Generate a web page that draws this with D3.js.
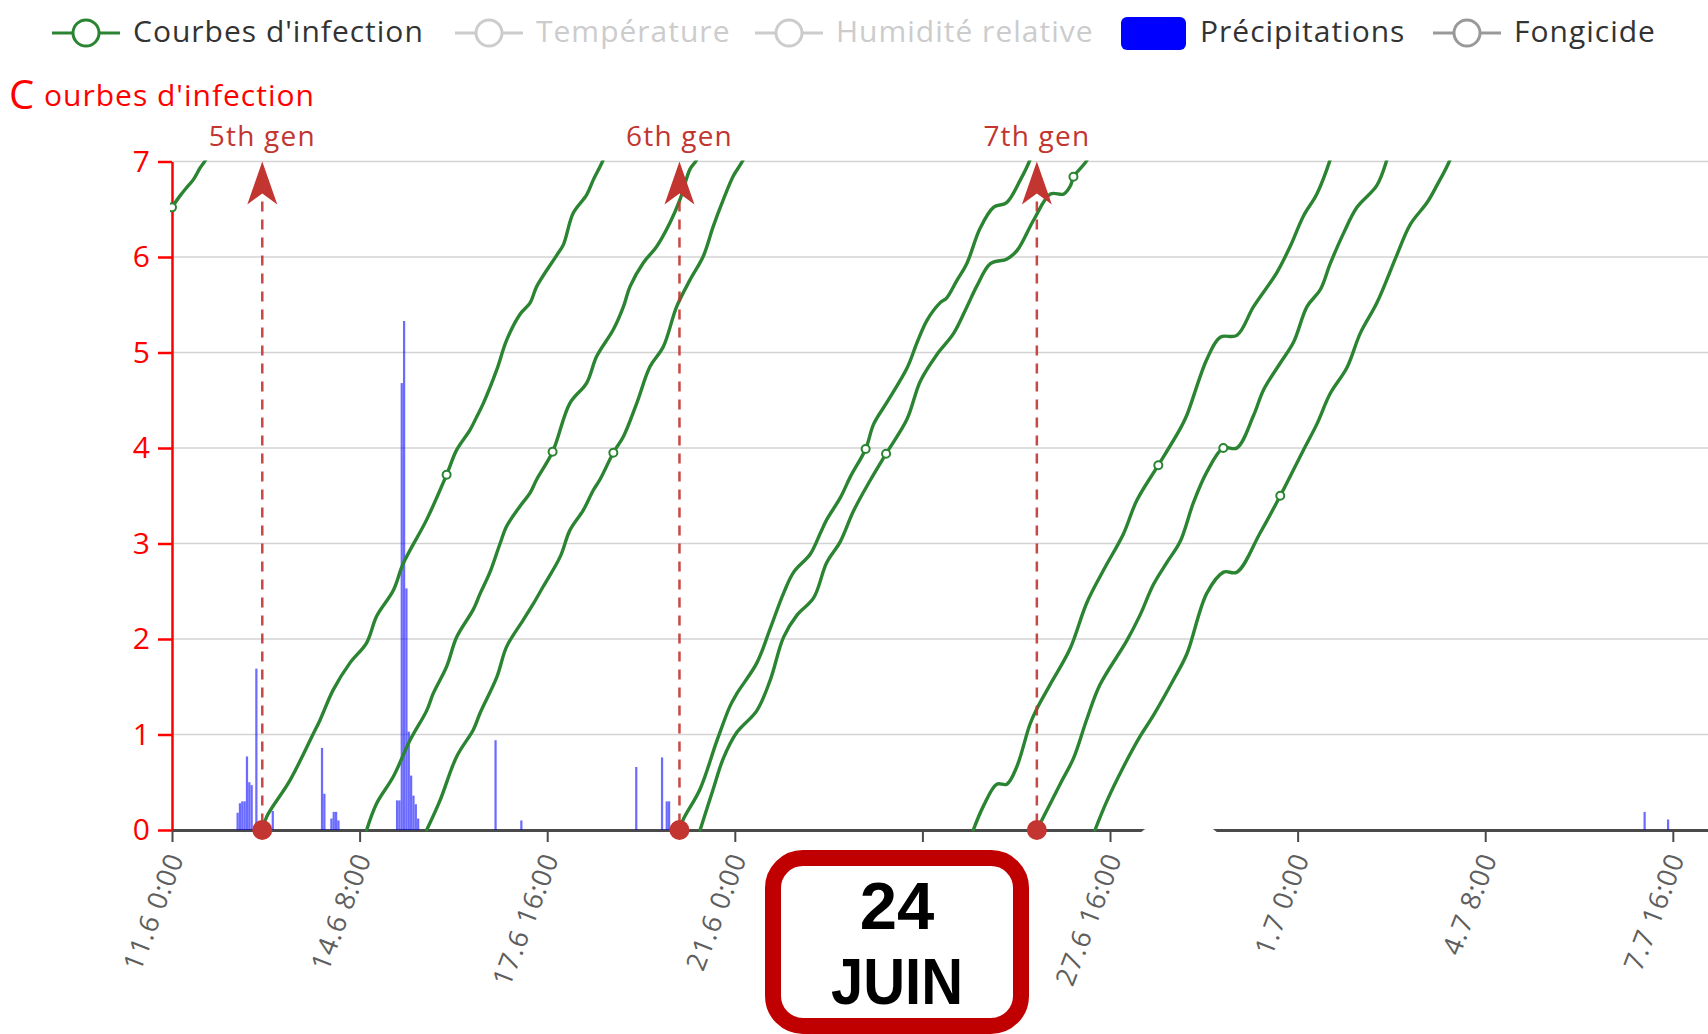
<!DOCTYPE html>
<html><head><meta charset="utf-8">
<script src="https://cdn.jsdelivr.net/npm/d3@7"></script>
<style>html,body{margin:0;padding:0;background:#fff;} svg{display:block;font-family:"Open Sans",sans-serif;}</style>
</head><body>
<svg id="chart" width="1708" height="1034"></svg>
<script>
// ---------- data ----------
const START = Date.UTC(2021, 5, 11, 0, 0);           // 11.6 0:00
const tickHours = [0, 80, 160, 240, 320, 400, 480, 560, 640];
const yTicks = [0, 1, 2, 3, 4, 5, 6, 7];
const legendNames = ["Courbes d'infection", "Température", "Humidité relative", "Précipitations", "Fongicide"];
const legendActive = [true, false, false, true, true];
const yAxisTitle = "Courbes d'infection";

// infection curves: [hours since 11.6 0:00, value]
const curveA = [[0,6.52],[3.4,6.64],[6,6.72],[9.1,6.81],[11.9,6.93],[14.8,7.04],[17,7.3]];
const curveB = [[38.5,0],[40.4,0.14],[50.3,0.52],[60.3,1.01],[63.1,1.15],[68.8,1.47],[75.9,1.75],[83,1.96],[87.3,2.24],[94.4,2.51],[98.6,2.79],[108.6,3.25],[117.1,3.72],[121.4,3.98],[127.1,4.19],[130,4.33],[132.8,4.47],[138.5,4.82],[142.7,5.13],[148.4,5.4],[152.7,5.52],[155.5,5.69],[164.1,6.02],[166.9,6.13],[171.1,6.46],[176.8,6.65],[179.7,6.81],[183.9,7.02],[186,7.2]];
const curveC = [[83,0],[87.3,0.28],[94.4,0.56],[101.5,0.94],[108.6,1.25],[111.4,1.43],[117.1,1.71],[121.4,2.02],[128.5,2.31],[131.3,2.47],[135.6,2.7],[139.9,3.0],[142.7,3.18],[148.4,3.39],[152.7,3.53],[155.5,3.67],[162.3,3.96],[169.7,4.47],[176.8,4.68],[181.1,4.96],[188.2,5.24],[192.5,5.48],[195.3,5.69],[201,5.94],[206.7,6.11],[212.4,6.36],[216.6,6.6],[220.9,6.92],[223.8,7.02],[226,7.2]];
const curveD = [[108.6,0],[114.3,0.31],[121.4,0.77],[128.5,1.05],[131.3,1.22],[138.5,1.6],[142.7,1.92],[149.8,2.2],[154.1,2.37],[158.3,2.55],[165.5,2.86],[169.7,3.14],[175.4,3.35],[179.7,3.56],[182.5,3.67],[188.2,3.95],[192.5,4.12],[198.2,4.47],[203.8,4.85],[209.5,5.06],[215.2,5.48],[220.9,5.76],[226.6,6.01],[230.8,6.32],[235.1,6.6],[239.4,6.85],[243.6,7.02],[246,7.2]];
const curveE = [[216.4,0],[218,0.11],[225.2,0.43],[232.3,0.93],[238,1.3],[240.9,1.43],[249.4,1.75],[255.1,2.11],[260.8,2.48],[265.1,2.7],[272.2,2.89],[276.5,3.11],[279.2,3.25],[285,3.48],[289.3,3.7],[295.8,3.99],[299.2,4.25],[304.9,4.48],[313.5,4.84],[317.8,5.11],[322,5.34],[327.5,5.52],[330.3,5.57],[334.6,5.75],[338.9,5.93],[344.6,6.3],[350.3,6.52],[355.9,6.57],[361.6,6.8],[365.9,7.02],[368,7.2]];
const curveF = [[225.2,0],[230.8,0.43],[235.1,0.75],[240.8,1.02],[249.4,1.25],[255.1,1.57],[260.8,2.02],[266.5,2.25],[273.6,2.43],[279.2,2.8],[285,3.02],[290.6,3.34],[297.7,3.66],[304.5,3.94],[313.4,4.3],[319.1,4.7],[326.2,4.98],[333.3,5.2],[339,5.48],[343.3,5.7],[349,5.93],[356.1,5.98],[360.4,6.07],[367.5,6.39],[374.6,6.66],[380.3,6.66],[383.2,6.75],[384.4,6.84],[390.3,7.02],[392,7.2]];
const curveG = [[341.7,0],[346,0.25],[351.7,0.48],[356,0.48],[360.2,0.66],[365.9,1.11],[368.8,1.27],[374.4,1.52],[383,1.9],[390.1,2.38],[397.2,2.72],[405.7,3.1],[411.4,3.45],[420.6,3.82],[429.9,4.2],[432.7,4.34],[441.3,4.93],[447,5.16],[454.1,5.18],[461.2,5.48],[471.2,5.84],[476.8,6.11],[482.5,6.43],[488.2,6.66],[493.9,7.02],[496,7.2]];
const curveH = [[368.8,0],[378.7,0.48],[384.4,0.75],[390.1,1.16],[395.7,1.52],[407.1,1.98],[412.8,2.25],[418.5,2.57],[424.2,2.8],[429.9,3.02],[435.6,3.43],[441.3,3.75],[448.3,4.0],[454.1,4.0],[461.2,4.34],[465.5,4.61],[472.6,4.89],[478.3,5.11],[484,5.48],[489.7,5.66],[493.9,5.93],[499.6,6.25],[505.3,6.52],[513.8,6.75],[518.1,7.02],[520,7.2]];
const curveI = [[393.6,0],[398.6,0.3],[405.7,0.66],[412.8,0.98],[418.5,1.2],[427,1.57],[432.7,1.84],[441.3,2.48],[448.4,2.7],[454.1,2.7],[464,3.11],[472.6,3.5],[482.5,3.98],[488.2,4.25],[493.9,4.57],[501,4.84],[506.7,5.2],[513.8,5.52],[522.3,6.02],[528,6.34],[535.2,6.57],[539.4,6.75],[545,7.02],[547,7.2]];
const curves = [curveA, curveB, curveC, curveD, curveE, curveF, curveG, curveH, curveI];

// open-circle symbols on the curves
const markerPoints = [[0,6.52],[117.1,3.72],[162.3,3.96],[188.2,3.95],[295.8,3.99],[304.5,3.94],[384.4,6.84],[420.6,3.82],[448.3,4.0],[472.6,3.5]];

// generations (mark lines)
const genLabels = ["5th gen", "6th gen", "7th gen"];
const genHours = [38.5, 216.4, 368.8];

// precipitation bars
const rainHours  = [28,29,30,31,32,33,34,36,43, 64,65,68,69,70,71, 96,97,98,99,100,101,102,103,104,105, 138,149, 198,209,211,212, 628,638];
const rainValues = [0.18,0.28,0.3,0.3,0.77,0.5,0.47,1.69,0.2, 0.86,0.38,0.12,0.19,0.19,0.1, 0.31,0.31,4.68,5.33,2.53,1.03,0.57,0.36,0.27,0.12, 0.94,0.1, 0.66,0.76,0.3,0.3, 0.19,0.11];

const noteLines = ["24", "JUIN"];

// ---------- layout ----------
const W = 1708, H = 1034;
const GREEN = "#2a8431", RED = "#c23531";
const svg = d3.select("#chart");
const hourMs = 3600e3;
const t = h => new Date(START + h * hourMs);
const x = d3.scaleUtc().domain([t(0), t(655)]).range([172, 1708]);
const y = d3.scaleLinear().domain([0, 7]).range([830, 161.5]);

// gridlines
svg.append("g").selectAll("line").data(yTicks.filter(v => v > 0)).join("line")
  .attr("x1", 172).attr("x2", W).attr("y1", d => y(d)).attr("y2", d => y(d))
  .attr("stroke", "#d3d3d3").attr("stroke-width", 1.6);

// x axis
const fmt = d => `${d.getUTCDate()}.${d.getUTCMonth() + 1} ${d.getUTCHours()}:${String(d.getUTCMinutes()).padStart(2, "0")}`;
const xAxis = svg.append("g").attr("transform", `translate(0,${y(0)})`)
  .call(d3.axisBottom(x).tickValues(tickHours.map(t)).tickFormat(fmt).tickSize(12).tickSizeOuter(0));
xAxis.select(".domain").attr("stroke", "#4a4a4a").attr("stroke-width", 3);
xAxis.selectAll(".tick line").attr("stroke", "#4a4a4a").attr("stroke-width", 2);
xAxis.selectAll(".tick text")
  .attr("fill", "#5e5e5e").attr("font-size", 27).attr("font-family", "Open Sans").attr("letter-spacing", 1)
  .attr("text-anchor", "end").attr("dominant-baseline", "central")
  .attr("x", 0).attr("y", 0).attr("dy", null)
  .attr("transform", "translate(2,24) rotate(-69)");

// y axis
const yAxis = svg.append("g").attr("transform", "translate(172,0)")
  .call(d3.axisLeft(y).tickValues(yTicks).tickFormat(d3.format("d")).tickSize(14).tickPadding(8).tickSizeOuter(0));
yAxis.select(".domain").attr("stroke", "#ff0000").attr("stroke-width", 2.5);
yAxis.selectAll(".tick line").attr("stroke", "#ff0000").attr("stroke-width", 2.5);
yAxis.selectAll(".tick text").attr("fill", "#ff0000").attr("font-size", 30).attr("font-family", "Open Sans");

// y axis title
const title = svg.append("text").attr("fill", "#ff0000").attr("font-family", "Open Sans");
title.append("tspan").attr("x", 9).attr("y", 109).attr("font-size", 40).text(yAxisTitle.slice(0, 1));
title.append("tspan").attr("x", 44).attr("y", 106).attr("font-size", 30).attr("letter-spacing", 1).text(yAxisTitle.slice(1));

// clip
svg.append("clipPath").attr("id", "plot").append("rect")
  .attr("x", 170).attr("y", y(7) - 1).attr("width", W - 170).attr("height", y(0) - y(7) + 12);
const plot = svg.append("g").attr("clip-path", "url(#plot)");

// precipitation bars
const bw = x(t(1)) - x(t(0));
plot.append("g").selectAll("rect").data(rainHours.map((h, i) => [h, rainValues[i]])).join("rect")
  .attr("x", d => x(t(d[0])) - bw / 2).attr("width", bw * 0.95)
  .attr("y", d => y(d[1])).attr("height", d => y(0) - y(d[1]))
  .attr("fill", "#0000ff").attr("fill-opacity", 0.58);

// curves
const line = d3.line().x(d => x(t(d[0]))).y(d => y(d[1])).curve(d3.curveCatmullRom.alpha(0.5));
plot.append("g").selectAll("path").data(curves).join("path")
  .attr("d", line).attr("fill", "none").attr("stroke", GREEN).attr("stroke-width", 3.4)
  .attr("stroke-linejoin", "round").attr("stroke-linecap", "round");

plot.append("g").selectAll("circle").data(markerPoints).join("circle")
  .attr("cx", d => x(t(d[0]))).attr("cy", d => y(d[1])).attr("r", 4)
  .attr("fill", "#fff").attr("stroke", GREEN).attr("stroke-width", 2);

// generation mark lines
const gen = svg.append("g").selectAll("g").data(genHours.map((h, i) => [h, genLabels[i]])).join("g")
  .attr("transform", d => `translate(${x(t(d[0]))},0)`);
gen.append("line").attr("x1", 0).attr("x2", 0).attr("y1", y(7) + 40).attr("y2", y(0))
  .attr("stroke", RED).attr("stroke-width", 2.5).attr("stroke-dasharray", "10,8").attr("opacity", 0.9);
gen.append("path").attr("d", `M0,${y(7)} L15,${y(7) + 43} L0,${y(7) + 32} L-15,${y(7) + 43} Z`).attr("fill", RED);
gen.append("circle").attr("cx", 0).attr("cy", y(0)).attr("r", 10).attr("fill", RED);
gen.append("text").attr("x", 0).attr("y", 146).attr("text-anchor", "middle")
  .attr("fill", RED).attr("font-size", 28).attr("letter-spacing", 1.2).text(d => d[1]);

// legend
const legendX = [52, 455, 755, 1121, 1433];
const legendColor = [GREEN, "#ccc", "#ccc", "#0000ff", "#999"];
const lg = svg.append("g").selectAll("g").data(legendNames.map((n, i) => ({n, i}))).join("g")
  .attr("transform", d => `translate(${legendX[d.i]},0)`);
lg.each(function (d) {
  const g = d3.select(this);
  const col = legendColor[d.i];
  if (d.i === 3) {
    g.append("rect").attr("x", 0).attr("y", 17).attr("width", 65).attr("height", 33).attr("rx", 6).attr("fill", col);
  } else {
    g.append("line").attr("x1", 0).attr("x2", 68).attr("y1", 33).attr("y2", 33).attr("stroke", col).attr("stroke-width", 3);
    g.append("circle").attr("cx", 34).attr("cy", 33).attr("r", 13).attr("fill", "#fff").attr("stroke", col).attr("stroke-width", 3);
  }
  g.append("text").attr("x", d.i === 3 ? 79 : 81).attr("y", 42)
    .attr("font-size", 30).attr("letter-spacing", 1)
    .attr("fill", legendActive[d.i] ? "#333" : "#ccc").text(d.n);
});

// white blob over axis
svg.append("rect").attr("x", 1136).attr("y", 827).attr("width", 86).attr("height", 34).attr("rx", 18).attr("fill", "#fff");

// date note box
svg.append("rect").attr("x", 773).attr("y", 858).attr("width", 248).attr("height", 168).attr("rx", 30)
  .attr("fill", "#fff").attr("stroke", "#c00000").attr("stroke-width", 16);
svg.append("text").attr("x", 897).attr("y", 929).attr("text-anchor", "middle")
  .attr("font-family", "Liberation Sans, Arial, sans-serif").attr("font-weight", "bold").attr("font-size", 67)
  .attr("fill", "#000").text(noteLines[0]);
svg.append("text").attr("x", 897).attr("y", 1004).attr("text-anchor", "middle")
  .attr("font-family", "Liberation Sans, Arial, sans-serif").attr("font-weight", "bold").attr("font-size", 64)
  .attr("textLength", 132).attr("lengthAdjust", "spacingAndGlyphs")
  .attr("fill", "#000").text(noteLines[1]);
</script>
</body></html>
